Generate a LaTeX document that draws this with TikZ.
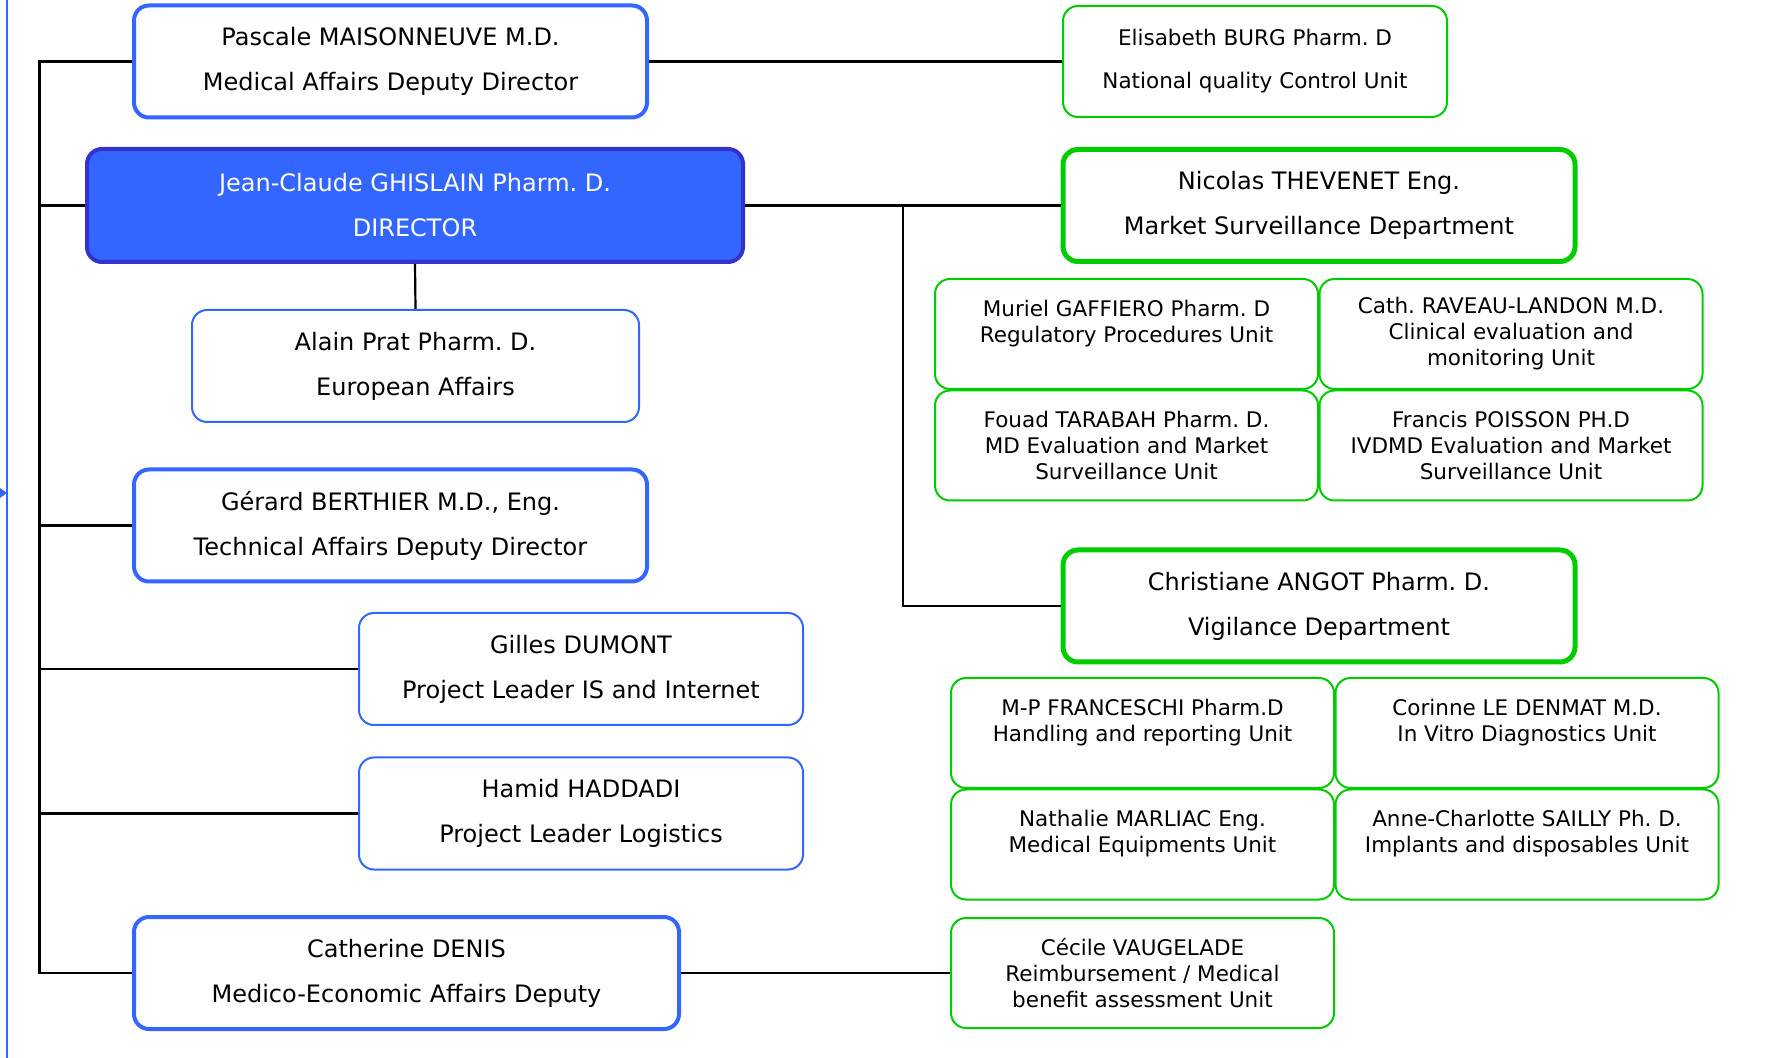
\documentclass[tikz,border=0pt]{standalone}
\usepackage{fontspec}
\setmainfont{DejaVu Sans}
\frenchspacing
\definecolor{bluebd}{RGB}{51,102,255}
\definecolor{dirfill}{RGB}{51,102,255}
\definecolor{dirbd}{RGB}{51,51,204}
\definecolor{greenbd}{RGB}{0,204,0}

\begin{document}
\begin{tikzpicture}[x=0.5pt, y=-0.5pt,
    box/.style={draw, rounded corners=7.5pt, align=center, inner sep=0pt},
    mainfont/.style={font=\fontsize{12}{22.5}\selectfont},
    unitfont/.style={font=\fontsize{10.75}{13}\selectfont},
    deputy/.style={box, mainfont, bluebd, line width=2pt, text=black, minimum height=56pt},
    staff/.style={box, mainfont, bluebd, line width=1pt, text=black, minimum height=56pt},
    dept/.style={box, mainfont, greenbd, line width=2.5pt, text=black, minimum width=256pt, minimum height=56pt},
    unit/.style={box, unitfont, greenbd, line width=1pt, text=black, minimum width=191.5pt, minimum height=55pt},
    link/.style={draw=black, line width=1.1pt}]

    \useasboundingbox (0,0) rectangle (1768,1058);

    % Left side
    \node[deputy, minimum width=256.5pt] (maisonneuve) at (390.5,61.5) {Pascale MAISONNEUVE M.D.\\Medical Affairs Deputy Director};
    \node[box, mainfont, fill=dirfill, draw=dirbd, line width=2pt, text=white, minimum width=328pt, minimum height=56.5pt] (ghislain) at (415,205.5) {Jean-Claude GHISLAIN Pharm. D.\\DIRECTOR};
    \node[staff, minimum width=223.5pt] (prat) at (415.5,366) {Alain Prat Pharm. D.\\European Affairs};
    \node[deputy, minimum width=256.5pt] (berthier) at (390.5,525.5) {Gérard BERTHIER M.D., Eng.\\Technical Affairs Deputy Director};
    \node[staff, minimum width=222pt] (dumont) at (581,669) {Gilles DUMONT\\Project Leader IS and Internet};
    \node[staff, minimum width=222pt] (haddadi) at (581,813.5) {Hamid HADDADI\\Project Leader Logistics};
    \node[deputy, minimum width=272.5pt] (denis) at (406.5,973) {Catherine DENIS\\Medico-Economic Affairs Deputy};

    % Right side
    \node[box, font=\fontsize{10.75}{21.5}\selectfont, greenbd, line width=1pt, text=black, minimum width=192pt, minimum height=55.5pt] (burg) at (1255,61.5) {Elisabeth BURG Pharm. D\\National quality Control Unit};
    \node[dept] (thevenet) at (1319,205.5) {Nicolas THEVENET Eng.\\Market Surveillance Department};
    \node[unit] (gaffiero) at (1126.5,334) {Muriel GAFFIERO Pharm. D\\Regulatory Procedures Unit\\~};
    \node[unit] (raveau) at (1511,334) {Cath. RAVEAU-LANDON M.D.\\Clinical evaluation and\\monitoring Unit};
    \node[unit] (tarabah) at (1126.5,445.5) {Fouad TARABAH Pharm. D.\\MD Evaluation and Market\\Surveillance Unit};
    \node[unit] (poisson) at (1511,445.5) {Francis POISSON PH.D\\IVDMD Evaluation and Market\\Surveillance Unit};
    \node[dept] (angot) at (1319,606) {Christiane ANGOT Pharm. D.\\Vigilance Department};
    \node[unit] (franceschi) at (1142.5,733) {M-P FRANCESCHI Pharm.D\\Handling and reporting Unit\\~};
    \node[unit] (denmat) at (1527,733) {Corinne LE DENMAT M.D.\\In Vitro Diagnostics Unit\\~};
    \node[unit] (marliac) at (1142.5,844.5) {Nathalie MARLIAC Eng.\\Medical Equipments Unit\\~};
    \node[unit] (sailly) at (1527,844.5) {Anne-Charlotte SAILLY Ph. D.\\Implants and disposables Unit\\~};
    \node[unit] (vaugelade) at (1142.5,973) {Cécile VAUGELADE\\Reimbursement / Medical\\benefit assessment Unit};

    % Blue margin line
    \draw[bluebd, line width=1pt] (7,0) -- (7,1058);
    \fill[bluebd] (0,488) -- (7,493) -- (0,498) -- cycle;

    % Trunk on the left
    \coordinate (trunk) at (39.5,0);
    \draw[link] (maisonneuve.west) -- (maisonneuve.west -| trunk) -- (denis.west -| trunk) -- (denis.west);
    \foreach \n in {ghislain,berthier,dumont,haddadi}
        \draw[link] (\n.west) -- (\n.west -| trunk);

    % Other links
    \draw[link] (maisonneuve.east) -- (burg.west);
    \draw[link] (ghislain.south) -- (prat.north);
    \draw[link] (ghislain.east) -- (thevenet.west);
    \coordinate (branch) at (903,205.5);
    \draw[link] (branch) |- (angot.west);
    \draw[link] (denis.east) -- (vaugelade.west);

\end{tikzpicture}
\end{document}
